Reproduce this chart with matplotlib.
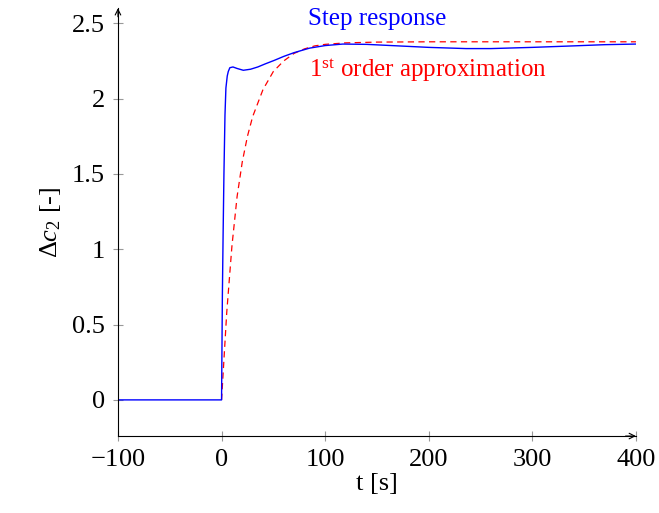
"""Step response of delta c2 with its first order approximation."""

import matplotlib.pyplot as plt

plt.rcParams["font.family"] = "Liberation Serif"
plt.rcParams["mathtext.fontset"] = "custom"
plt.rcParams["mathtext.rm"] = "Liberation Serif"
plt.rcParams["mathtext.it"] = "Liberation Serif:italic"

# step response
step_t = [-100, 0, 0.8, 1.5, 2.3, 3.3, 4.2, 5.5, 6.5, 8, 11, 15, 21, 28, 35,
          42, 51, 60, 70, 85, 100, 117, 140, 170, 200, 236, 260, 300, 340,
          370, 400]
step_y = [0, 0, 0.7, 1.1, 1.5, 1.89, 2.07, 2.15, 2.18, 2.205, 2.21, 2.20,
          2.188, 2.195, 2.21, 2.23, 2.254, 2.28, 2.305, 2.335, 2.352, 2.362,
          2.36, 2.35, 2.34, 2.332, 2.332, 2.34, 2.35, 2.358, 2.362]

# first order approximation
fo_t = [0, 5, 10, 15, 20, 25, 30, 40, 50, 60, 70, 80, 90, 100, 120, 150,
        200, 300, 400]
fo_y = [0, 0.58, 1.02, 1.35, 1.58, 1.75, 1.88, 2.06, 2.18, 2.25, 2.30, 2.33,
        2.35, 2.36, 2.37, 2.375, 2.377, 2.377, 2.377]

x_ticks = [-100, 0, 100, 200, 300, 400]
x_tick_labels = ["$-$100", "0", "100", "200", "300", "400"]
y_ticks = [0, 0.5, 1, 1.5, 2, 2.5]
y_tick_labels = ["0", "0.5", "1", "1.5", "2", "2.5"]

fig = plt.figure(figsize=(6.59, 5.13), dpi=100)
ax = fig.add_axes([0.179, 0.150, 0.786, 0.834])

ax.plot(fo_t, fo_y, color="red", linewidth=0.9, dashes=(5, 3.5))
ax.plot(step_t, step_y, color="blue", linewidth=1.0)

ax.set_xlim(-100, 400)
ax.set_ylim(-0.24, 2.6)
ax.set_xticks(x_ticks)
ax.set_xticklabels(x_tick_labels)
ax.set_yticks(y_ticks)
ax.set_yticklabels(y_tick_labels)
ax.tick_params(direction="inout", length=7, width=0.8, color="0.6",
               labelsize=19, pad=6)

for side in ["top", "right"]:
    ax.spines[side].set_visible(False)
ax.spines["left"].set_linewidth(0.8)
ax.spines["bottom"].set_linewidth(0.8)

# arrow heads on the axis lines
ax.annotate("", xy=(1.0, 0), xytext=(0.98, 0), xycoords="axes fraction",
            arrowprops=dict(arrowstyle="->", color="black", lw=0.8,
                            shrinkA=0, shrinkB=0))
ax.annotate("", xy=(0, 1.0), xytext=(0, 0.98), xycoords="axes fraction",
            arrowprops=dict(arrowstyle="->", color="black", lw=0.8,
                            shrinkA=0, shrinkB=0))

ax.text(150, 2.53, "Step response", color="blue", fontsize=18,
        ha="center", va="center")
ax.text(84, 2.19, "1$^{\\rm st}$ order approximation", color="red",
        fontsize=18, ha="left", va="center")

ax.set_xlabel("t [s]", fontsize=19, labelpad=1)
ax.set_ylabel("$\\mathit{Δc}_2$ [-]", fontsize=19, labelpad=6)

fig.savefig("out.png", dpi=100)
